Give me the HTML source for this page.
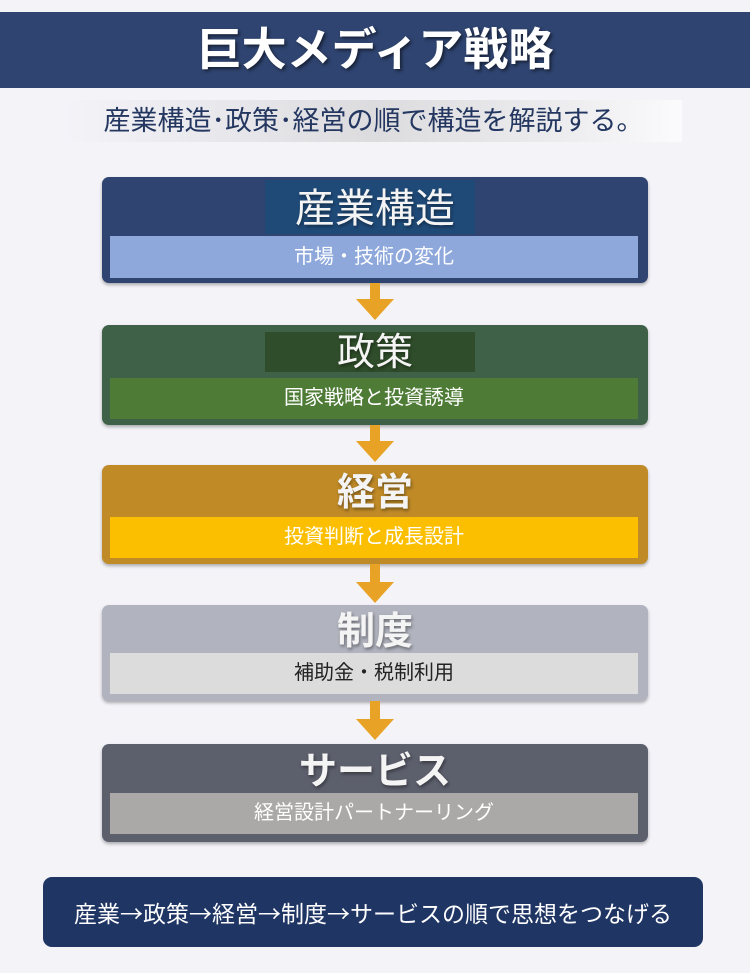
<!DOCTYPE html>
<html><head><meta charset="utf-8"><style>
*{margin:0;padding:0;box-sizing:border-box}
body{width:750px;height:973px;background:#f4f3f8;font-family:"Liberation Sans","Noto Sans CJK JP",sans-serif;position:relative;overflow:hidden}
.abs{position:absolute}
.hdr{left:0;top:12px;width:750px;height:76px;background:#2f4470;color:#fff;font-size:45px;font-weight:bold;text-align:center;line-height:76px;text-shadow:2px 2px 3px rgba(0,0,0,.5)}
.sub{left:65px;top:100px;width:617px;height:42px;background:linear-gradient(90deg,#f4f3f8,#e6e6ea 30%,#dcdcdf 50%,#ececef 80%,#fbfbfd);color:#243760;font-size:27px;text-align:center;line-height:42px;white-space:nowrap}
.box{left:102px;width:546px;border-radius:7px;box-shadow:0 2px 3px rgba(0,0,0,.3)}
.t{position:absolute;left:0;width:100%;text-align:center;color:#f4f4f4;font-size:38px;font-weight:bold;text-shadow:1px 2px 3px rgba(0,0,0,.4)}
.hl{position:absolute;left:163px;width:210px}
.s{position:absolute;left:8px;width:528px;height:42px;line-height:42px;text-align:center;font-size:20px;color:#fff}
.a{font-family:"Noto Sans CJK JP",sans-serif}
</style></head><body>
<div class="abs hdr">巨大メディア戦略</div>
<div class="abs sub">産業構造･政策･経営の順で構造を解説する。</div>

<div class="abs box" style="top:177px;height:106px;background:#2f4470">
<div class="hl" style="top:3px;height:54px;background:#1f4a78"></div>
<div class="t" style="top:6px;font-weight:normal;font-size:40px;line-height:52px">産業構造</div>
<div class="s" style="top:59px;background:#8ea8dc">市場・技術の変化</div></div>

<div class="abs box" style="top:325px;height:100px;background:#3e6148">
<div class="hl" style="top:7px;height:40px;background:#2f4d2a"></div>
<div class="t" style="top:5px;font-weight:normal;line-height:46px">政策</div>
<div class="s" style="top:53px;height:41px;line-height:41px;background:#4e7b36">国家戦略と投資誘導</div></div>

<div class="abs box" style="top:465px;height:99px;background:#c08a27">
<div class="t" style="top:3px;line-height:50px">経営</div>
<div class="s" style="top:52px;height:41px;line-height:41px;background:#fcbf00">投資判断と成長設計</div></div>

<div class="abs box" style="top:605px;height:96px;background:#b1b3be">
<div class="t" style="top:2px;line-height:50px">制度</div>
<div class="s" style="top:48px;height:41px;line-height:41px;background:#dcdcdc;color:#222">補助金・税制利用</div></div>

<div class="abs box" style="top:744px;height:98px;background:#5c5f6c">
<div class="t" style="top:2px;line-height:52px">サービス</div>
<div class="s" style="top:49px;height:41px;line-height:41px;background:#aaa9a8">経営設計パートナーリング</div></div>

<svg class="abs" style="left:0;top:0" width="750" height="973">
<g fill="#e8a326">
<path d="M370 283h10v16h14l-19 21-19-21h14z"/>
<path d="M370 425h10v16h14l-19 21-19-21h14z"/>
<path d="M370 564h10v18h14l-19 21-19-21h14z"/>
<path d="M370 701h10v18h14l-19 21-19-21h14z"/>
</g></svg>

<div class="abs" style="left:43px;top:877px;width:660px;height:70px;background:#1f3564;border-radius:9px;color:#fff;font-size:23px;text-align:center;line-height:70px;white-space:nowrap">産業<span class="a">→</span>政策<span class="a">→</span>経営<span class="a">→</span>制度<span class="a">→</span>サービスの順で思想をつなげる</div>
</body></html>
